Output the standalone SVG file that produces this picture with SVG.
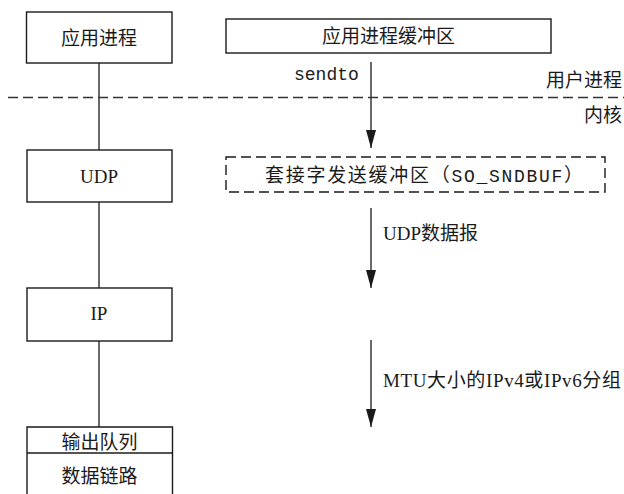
<svg xmlns="http://www.w3.org/2000/svg" width="624" height="494" viewBox="0 0 624 494">
<style>
.box{fill:#fff;stroke:#1a1a1a;stroke-width:1.4}
.dbox{fill:none;stroke:#1a1a1a;stroke-width:1.4;stroke-dasharray:10 5}
.ln{stroke:#1a1a1a;stroke-width:1.3;fill:none}
.dl{stroke:#333;stroke-width:1.4;stroke-dasharray:10 5;fill:none}
.t{font-family:"Liberation Serif","Noto Sans CJK SC",serif;font-size:19px;fill:#1a1a1a}
.m{font-family:"Liberation Mono","Noto Sans CJK SC",monospace;font-size:18px;fill:#1a1a1a}
.c{text-anchor:middle}
.e{text-anchor:end}
</style>
<defs>
<marker id="ah" markerUnits="userSpaceOnUse" markerWidth="18" markerHeight="10" refX="18" refY="5" orient="auto">
<path d="M0,0 L18,5 L0,10 z" fill="#1a1a1a"/>
</marker>
</defs>
<g id="connectors">
<line class="ln" x1="99" y1="63" x2="99" y2="150"/>
<line class="ln" x1="99" y1="202" x2="99" y2="288"/>
<line class="ln" x1="99" y1="341" x2="99" y2="427"/>
<line class="ln" x1="371" y1="62" x2="371" y2="148" marker-end="url(#ah)"/>
<line class="ln" x1="371" y1="208" x2="371" y2="288" marker-end="url(#ah)"/>
<line class="ln" x1="371" y1="340" x2="371" y2="427" marker-end="url(#ah)"/>
</g>
<g id="boundary">
<line class="dl" x1="8" y1="97.5" x2="624" y2="97.5"/>
<text class="t e" x="622" y="87">用户进程</text>
<text class="t e" x="622" y="122">内核</text>
</g>
<g id="app">
<rect class="box" x="26.5" y="12" width="145.5" height="51"/>
<text class="t c" x="99" y="45">应用进程</text>
</g>
<g id="appbuf">
<rect class="box" x="226" y="19" width="325" height="34"/>
<text class="t c" x="388.5" y="43">应用进程缓冲区</text>
</g>
<g id="sendto">
<text class="m" x="294" y="80">sendto</text>
</g>
<g id="udp">
<rect class="box" x="27" y="150" width="145" height="52"/>
<text class="t c" x="99" y="183" font-size="20">UDP</text>
</g>
<g id="sockbuf">
<rect class="dbox" x="226" y="157" width="379" height="35"/>
<text class="t" x="265" y="182" textLength="318" lengthAdjust="spacing">套接字发送缓冲区（<tspan class="m" font-size="18">SO_SNDBUF</tspan>）</text>
</g>
<g id="udplabel">
<text class="t" x="383" y="240">UDP数据报</text>
</g>
<g id="ip">
<rect class="box" x="27" y="288" width="145" height="53"/>
<text class="t c" x="99" y="320" font-size="20">IP</text>
</g>
<g id="mtulabel">
<text class="t" x="383" y="387" textLength="238" lengthAdjust="spacing">MTU大小的IPv4或IPv6分组</text>
</g>
<g id="datalink">
<path class="box" d="M27,495 V427 H172.5 V495"/>
<line class="ln" x1="27" y1="453" x2="172.5" y2="453"/>
<text class="t c" x="99.5" y="449">输出队列</text>
<text class="t c" x="99.5" y="483">数据链路</text>
</g>
</svg>
